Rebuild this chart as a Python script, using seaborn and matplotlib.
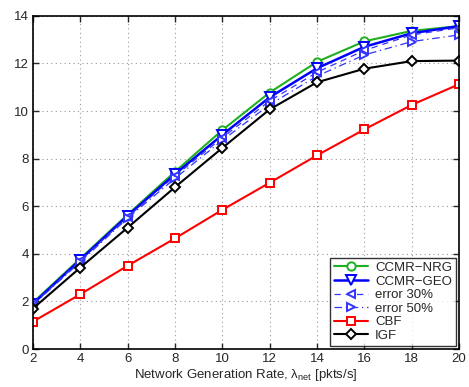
import matplotlib
matplotlib.use("Agg")
import matplotlib.pyplot as plt
import seaborn as sns
import pandas as pd

x = [2, 4, 6, 8, 10, 12, 14, 16, 18, 20]
ccmr_nrg = [1.95, 3.8, 5.65, 7.45, 9.2, 10.78, 12.07, 12.93, 13.37, 13.57]
ccmr_geo = [1.9, 3.75, 5.6, 7.35, 9.0, 10.58, 11.8, 12.7, 13.27, 13.57]
err30 = [1.88, 3.72, 5.55, 7.27, 8.88, 10.43, 11.63, 12.55, 13.2, 13.5]
err50 = [1.85, 3.66, 5.5, 7.17, 8.77, 10.27, 11.47, 12.36, 12.92, 13.2]
cbf = [1.15, 2.3, 3.5, 4.65, 5.85, 6.99, 8.14, 9.23, 10.26, 11.13]
igf = [1.7, 3.42, 5.1, 6.8, 8.45, 10.07, 11.21, 11.78, 12.1, 12.12]

series = ["CCMR\u2212NRG", "CCMR\u2212GEO", "error 30%", "error 50%", "CBF", "IGF"]
values = [ccmr_nrg, ccmr_geo, err30, err50, cbf, igf]
colors = ["#1fb01f", "#0000ff", "#3333ff", "#3333ff", "#ff0000", "#000000"]
markers = ["o", "v", "<", ">", "s", "D"]
lstyles = ["-", "-", (0, (5, 4)), (0, (6, 3, 1, 3)), "-", "-"]
lwidths = [1.5, 1.8, 0.9, 0.9, 1.5, 1.5]
msizes = [6, 7, 5.5, 5.5, 5.5, 5.5]

sns.set_style("white")
plt.rcParams["font.family"] = ["Liberation Sans", "DejaVu Sans"]
plt.rcParams["mathtext.fontset"] = "custom"
plt.rcParams["mathtext.rm"] = "Liberation Sans"
plt.rcParams["mathtext.it"] = "Liberation Sans"

fig = plt.figure(figsize=(4.69, 3.87), dpi=100)
ax = fig.add_axes([0.070, 0.098, 0.909, 0.861])

for name, vals, c, m, ls, lw, ms in zip(series, values, colors, markers, lstyles, lwidths, msizes):
    df = pd.DataFrame({"x": x, "y": vals})
    sns.lineplot(data=df, x="x", y="y", ax=ax, color=c, marker=m, linestyle=ls,
                 linewidth=lw, markersize=ms, markerfacecolor="white",
                 markeredgecolor=c, markeredgewidth=1.4, label=name)

ax.set_xlim(2, 20)
ax.set_ylim(0, 14)
ax.set_xticks(x)
ax.set_yticks(range(0, 15, 2))
ax.grid(True, linestyle=(0, (1, 3)), color="#999999", linewidth=0.8)
ax.tick_params(direction="in", length=4, width=1, labelsize=9.5, pad=3,
               top=True, right=True, bottom=True, left=True, labeltop=False, labelright=False)
for s in ax.spines.values():
    s.set_color("black")
    s.set_linewidth(1.2)
ax.set_xlabel(r"Network Generation Rate, $\lambda_{\mathrm{net}}$ [pkts/s]", fontsize=9.5, labelpad=1)
ax.set_ylabel("")

leg = ax.legend(loc="lower right", fontsize=9.5, frameon=True, fancybox=False,
                edgecolor="black", borderaxespad=0.25, handlelength=2.6,
                labelspacing=0.1, borderpad=0.3, handletextpad=0.5)
leg.get_frame().set_linewidth(1.0)

fig.savefig("out.png", dpi=100)
